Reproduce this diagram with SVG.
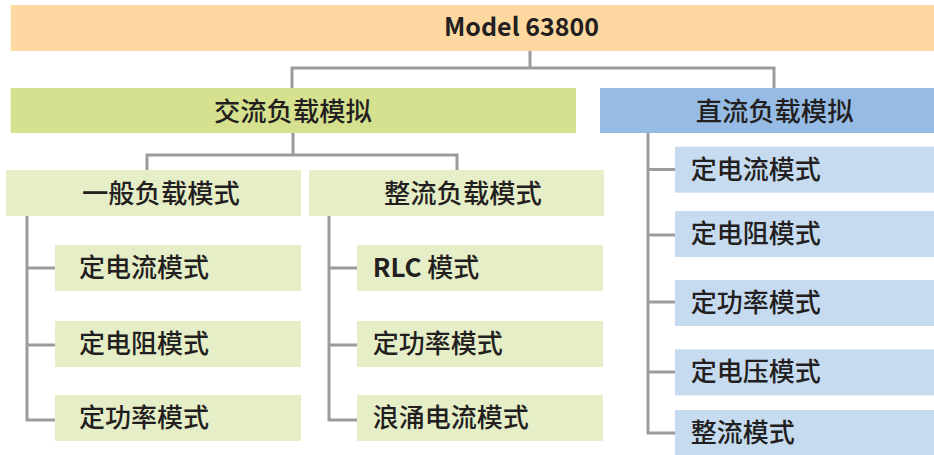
<svg xmlns="http://www.w3.org/2000/svg" width="934" height="455" viewBox="0 0 934 455">
<style>
text{font-family:"Noto Sans CJK SC","Noto Sans",sans-serif;font-size:26px;font-weight:500;fill:#231f20}
.h{font-size:26.3px}
.b{font-weight:bold}
.m{font-size:25px}
.top{fill:#fdd9a1}
.g1{fill:#d5e18e}
.g2{fill:#e6eec8}
.b1{fill:#96bbe4}
.b2{fill:#c6dbf0}
.c{fill:none;stroke:#9b9b9f;stroke-width:3}
</style>
<rect width="934" height="455" fill="#fff"/>
<g id="connectors">
<path class="c" d="M530 50V68M292 88V68H774V88"/>
<path class="c" d="M293 133V155H147V170M293 155H457V170"/>
<path class="c" d="M27 216V420H55M27 268H55M27 345H55"/>
<path class="c" d="M329 216V420H357M329 268H357M329 345H357"/>
<path class="c" d="M648 133V433H675M648 169.5H675M648 235H675M648 302H675M648 372H675"/>
</g>
<g id="model"><rect class="top" x="10.7" y="5" width="923.3" height="46"/><text class="b m" x="521.5" y="36" text-anchor="middle">Model 63800</text></g>
<g id="ac"><rect class="g1" x="10.7" y="88" width="565.3" height="45"/><text class="h" x="214" y="121">交流负载模拟</text></g>
<g id="dc"><rect class="b1" x="600" y="88" width="334" height="45"/><text class="h" x="695.7" y="121">直流负载模拟</text></g>
<g id="general"><rect class="g2" x="6" y="170" width="295" height="46"/><text class="h" x="82" y="202.5">一般负载模式</text></g>
<g id="rect"><rect class="g2" x="309" y="170" width="295" height="46"/><text class="h" x="384" y="202.5">整流负载模式</text></g>
<g id="ac-cc"><rect class="g2" x="55" y="245" width="246" height="46"/><text x="79" y="277">定电流模式</text></g>
<g id="ac-cr"><rect class="g2" x="55" y="321" width="246" height="46"/><text x="79" y="353">定电阻模式</text></g>
<g id="ac-cp"><rect class="g2" x="55" y="395" width="246" height="46"/><text x="79" y="427">定功率模式</text></g>
<g id="rlc"><rect class="g2" x="357" y="245" width="246" height="46"/><text x="372.7" y="277"><tspan class="b">RLC</tspan> 模式</text></g>
<g id="rect-cp"><rect class="g2" x="357" y="321" width="246" height="46"/><text x="372.7" y="353">定功率模式</text></g>
<g id="inrush"><rect class="g2" x="357" y="395" width="246" height="46"/><text x="372.7" y="427">浪涌电流模式</text></g>
<g id="dc-cc"><rect class="b2" x="675" y="146.7" width="259" height="46"/><text x="690.7" y="179">定电流模式</text></g>
<g id="dc-cr"><rect class="b2" x="675" y="211" width="259" height="46"/><text x="690.7" y="243">定电阻模式</text></g>
<g id="dc-cp"><rect class="b2" x="675" y="280" width="259" height="46"/><text x="690.7" y="312">定功率模式</text></g>
<g id="dc-cv"><rect class="b2" x="675" y="349.3" width="259" height="46"/><text x="690.7" y="381">定电压模式</text></g>
<g id="dc-rect"><rect class="b2" x="675" y="410" width="259" height="45"/><text x="690.7" y="441.5">整流模式</text></g>
</svg>
